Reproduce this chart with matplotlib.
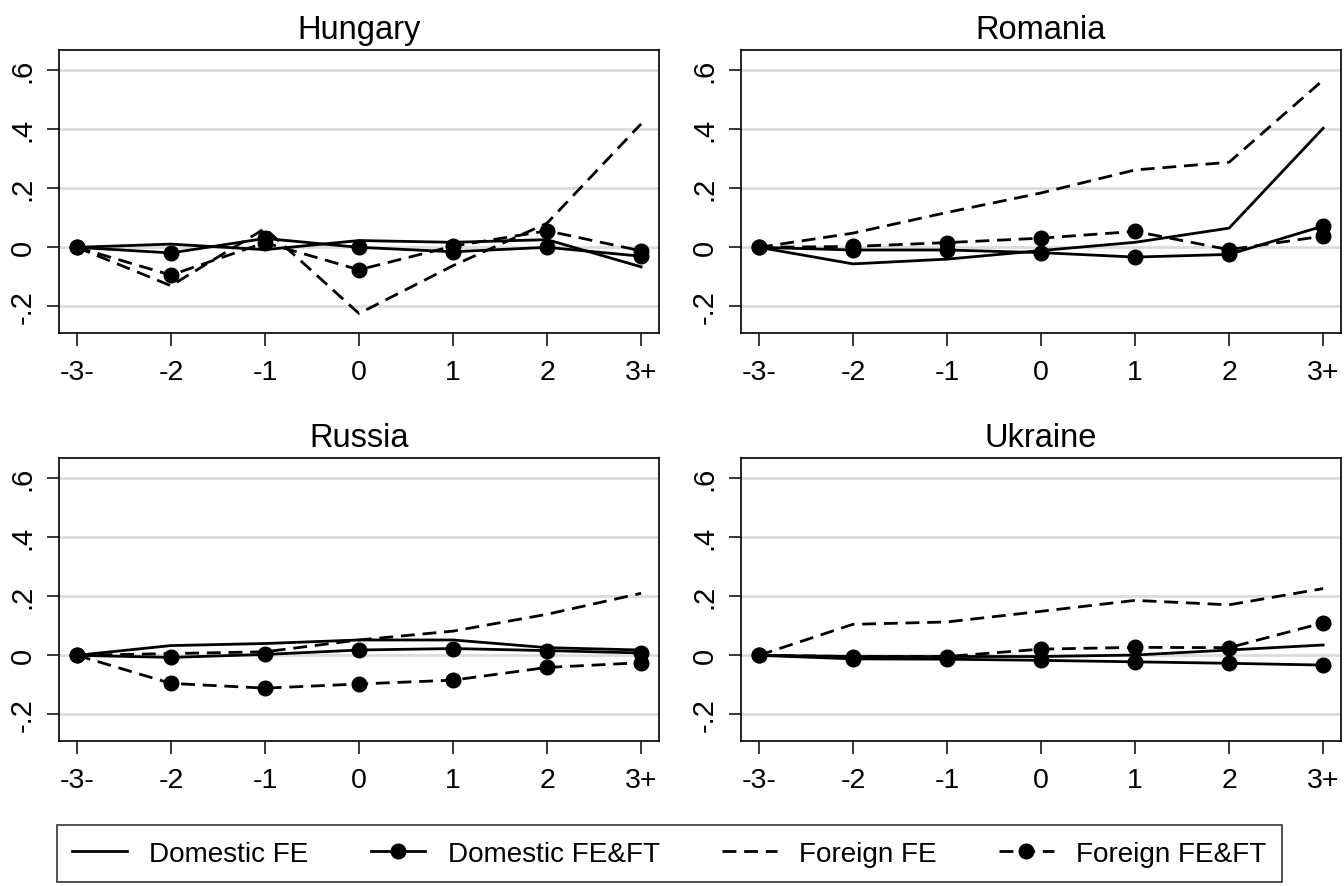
import numpy as np
import matplotlib
matplotlib.use("Agg")
import matplotlib.pyplot as plt

plt.rcParams['font.family'] = ['Liberation Sans', 'DejaVu Sans']

periods = ["-3-", "-2", "-1", "0", "1", "2", "3+"]
countries = ["Hungary", "Romania", "Russia", "Ukraine"]
series_names = ["Domestic FE", "Domestic FE&FT", "Foreign FE", "Foreign FE&FT"]

# Hungary
hu_dom_fe = [0, 0.011, -0.008, 0.023, 0.017, 0.026, -0.066]
hu_dom_feft = [0, -0.019, 0.030, 0.0, -0.015, 0.0, -0.030]
hu_for_fe = [0, -0.130, 0.064, -0.224, -0.062, 0.082, 0.418]
hu_for_feft = [0, -0.094, 0.016, -0.076, 0.004, 0.056, -0.012]

# Romania
ro_dom_fe = [0, -0.056, -0.040, -0.011, 0.017, 0.065, 0.403]
ro_dom_feft = [0, -0.009, -0.009, -0.018, -0.033, -0.024, 0.072]
ro_for_fe = [0, 0.048, 0.118, 0.184, 0.262, 0.288, 0.566]
ro_for_feft = [0, 0.003, 0.016, 0.031, 0.054, -0.008, 0.038]

# Russia
ru_dom_fe = [0, 0.033, 0.040, 0.052, 0.052, 0.026, 0.018]
ru_dom_feft = [0, -0.007, 0.003, 0.018, 0.023, 0.016, 0.008]
ru_for_fe = [0, 0.006, 0.012, 0.052, 0.082, 0.139, 0.210]
ru_for_feft = [0, -0.095, -0.111, -0.097, -0.084, -0.041, -0.025]

# Ukraine
ua_dom_fe = [0, -0.004, -0.004, -0.004, 0.001, 0.018, 0.035]
ua_dom_feft = [0, -0.012, -0.013, -0.017, -0.022, -0.027, -0.033]
ua_for_fe = [0, 0.105, 0.113, 0.149, 0.186, 0.171, 0.226]
ua_for_feft = [0, -0.004, -0.004, 0.021, 0.027, 0.026, 0.110]

data = {
    "Hungary": [hu_dom_fe, hu_dom_feft, hu_for_fe, hu_for_feft],
    "Romania": [ro_dom_fe, ro_dom_feft, ro_for_fe, ro_for_feft],
    "Russia": [ru_dom_fe, ru_dom_feft, ru_for_fe, ru_for_feft],
    "Ukraine": [ua_dom_fe, ua_dom_feft, ua_for_fe, ua_for_feft],
}

yticks = [-0.2, 0, 0.2, 0.4, 0.6]
ytick_labels = ["-.2", "0", ".2", ".4", ".6"]

W, H = 1344, 887
fig = plt.figure(figsize=(W / 100, H / 100), dpi=100)

# axes boxes in pixels: (left, top, right, bottom)
boxes = [(59, 51, 659, 334), (741, 51, 1341, 334),
         (59, 459, 659, 742), (741, 459, 1341, 742)]

lw = 2.0
dash = (5.0, 2.8)
styles = [
    dict(linestyle="-", marker=None),
    dict(linestyle="-", marker="o"),
    dict(linestyle=(0, dash), marker=None),
    dict(linestyle=(0, dash), marker="o"),
]

x = np.arange(len(periods))
handles = []
for country, (l, t, r, b) in zip(countries, boxes):
    ax = fig.add_axes([l / W, 1 - b / H, (r - l) / W, (b - t) / H])
    for yv in yticks:
        ax.axhline(yv, color="#dcdcdc", lw=2.0, zorder=0)
    hs = []
    for vals, st in zip(data[country], styles):
        h, = ax.plot(x, vals, color="black", lw=lw, linestyle=st["linestyle"],
                     marker=st["marker"], markersize=10.5, zorder=3)
        hs.append(h)
    handles = hs
    ax.set_xlim(-0.19, 6.19)
    ax.set_ylim(-0.29, 0.668)
    ax.set_xticks(x)
    ax.set_xticklabels(periods, fontsize=20.5)
    ax.set_yticks(yticks)
    ax.set_yticklabels(ytick_labels, fontsize=21, rotation=90, va="center")
    ax.tick_params(axis="x", length=9.4, width=1.1, pad=9)
    ax.tick_params(axis="y", length=9, width=1.1, pad=7)
    for s in ax.spines.values():
        s.set_linewidth(1.2)
    ax.set_title(country, fontsize=23.5, pad=8.6)

leg = fig.legend(handles, series_names, loc="lower left",
                 bbox_to_anchor=(57 / W, 4 / H), ncol=4, fontsize=20.1,
                 frameon=True, fancybox=False, edgecolor="black",
                 handlelength=1.95, handletextpad=0.8, columnspacing=2.24,
                 borderpad=0.55, borderaxespad=0)
leg.get_frame().set_linewidth(1.2)

fig.savefig("out.png", dpi=100)
